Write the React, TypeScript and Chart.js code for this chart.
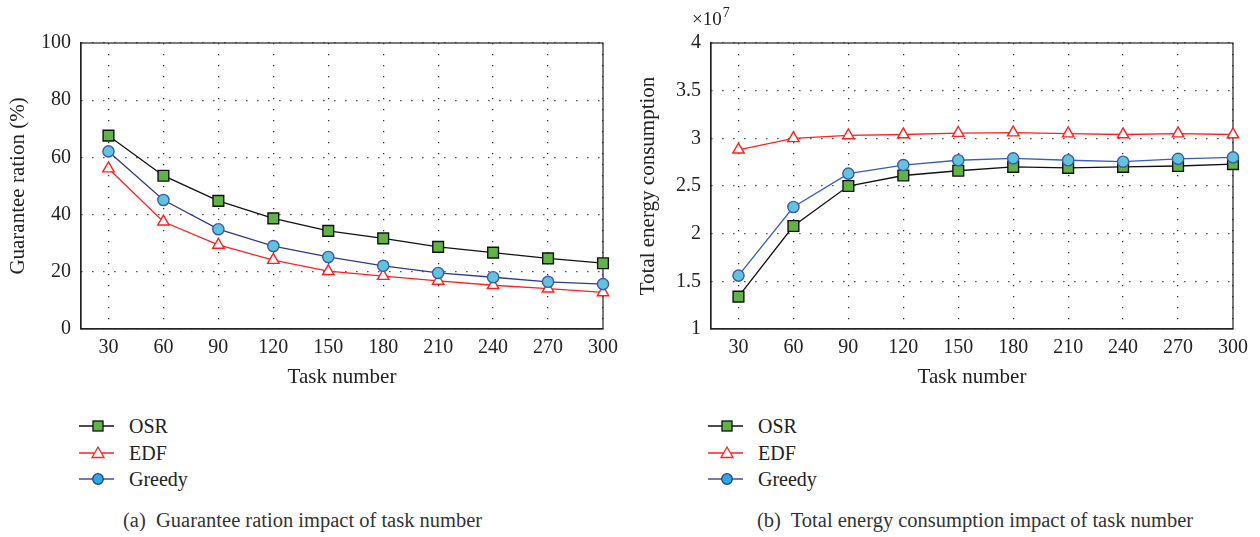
import React, { useEffect, useRef } from "react";
import { Chart, registerables } from "chart.js";
Chart.register(...registerables);

const taskNumbers = [30, 60, 90, 120, 150, 180, 210, 240, 270, 300];
const seriesNames = ["OSR", "EDF", "Greedy"];

const guaranteeOSR = [67.6, 53.6, 44.8, 38.7, 34.3, 31.7, 28.7, 26.7, 24.7, 23.0];
const guaranteeEDF = [56.1, 37.5, 29.4, 24.1, 20.2, 18.5, 16.8, 15.3, 14.1, 12.8];
const guaranteeGreedy = [62.1, 45.1, 34.9, 29.0, 25.2, 22.1, 19.6, 18.1, 16.5, 15.7];
const guaranteeTicks = [0, 20, 40, 60, 80, 100];

// Total energy consumption in units of 10^7
const energyOSR = [1.34, 2.08, 2.5, 2.61, 2.66, 2.7, 2.69, 2.7, 2.71, 2.73];
const energyEDF = [2.88, 3.0, 3.03, 3.04, 3.055, 3.06, 3.05, 3.04, 3.05, 3.04];
const energyGreedy = [1.56, 2.28, 2.63, 2.72, 2.77, 2.79, 2.77, 2.755, 2.785, 2.8];
const energyTicks = [1, 1.5, 2, 2.5, 3, 3.5, 4];

const FONT = "'Liberation Serif', 'Times New Roman', serif";
const TEXT = "#222";

const boxPlugin = {
  id: "box",
  beforeDatasetsDraw(chart: any) {
    const { ctx, chartArea } = chart;
    const { left, top, right, bottom } = chartArea;
    ctx.save();
    ctx.strokeStyle = "#222";
    ctx.lineWidth = 1.2;
    ctx.strokeRect(left, top, right - left, bottom - top);
    ctx.restore();
  },
};

type PanelProps = {
  yTitle: string;
  yMin: number;
  yMax: number;
  yTicks: number[];
  osr: number[];
  edf: number[];
  greedy: number[];
  greedyLine: string;
};

function LineChart(p: PanelProps) {
  const ref = useRef<HTMLCanvasElement>(null);
  useEffect(() => {
    const pts = (arr: number[]) => taskNumbers.map((x, i) => ({ x, y: arr[i] }));
    const tickFont = { family: FONT, size: 20 };
    const titleFont = { family: FONT, size: 21 };
    const chart = new Chart(ref.current as HTMLCanvasElement, {
      type: "line",
      data: {
        datasets: [
          {
            label: seriesNames[0],
            data: pts(p.osr),
            borderColor: "#111",
            borderWidth: 1.3,
            pointStyle: "rect",
            pointRadius: 7.6,
            pointBackgroundColor: "#62b346",
            pointBorderColor: "#111",
            pointBorderWidth: 1.4,
            tension: 0,
            clip: false,
            order: 2,
          },
          {
            label: seriesNames[1],
            data: pts(p.edf),
            borderColor: "#ff2020",
            borderWidth: 1.3,
            pointStyle: "triangle",
            pointRadius: 6.6,
            pointBackgroundColor: "#ffffff",
            pointBorderColor: "#ff2020",
            pointBorderWidth: 1.4,
            tension: 0,
            clip: false,
            order: 1,
          },
          {
            label: seriesNames[2],
            data: pts(p.greedy),
            borderColor: p.greedyLine,
            borderWidth: 1.3,
            pointStyle: "circle",
            pointRadius: 5.6,
            pointBackgroundColor: "#62c4dc",
            pointBorderColor: "#3b5ba8",
            pointBorderWidth: 1.4,
            tension: 0,
            clip: false,
            order: 0,
          },
        ] as any,
      },
      options: {
        responsive: false,
        maintainAspectRatio: false,
        animation: false,
        events: [],
        layout: { padding: { left: 0, right: 27, top: 43, bottom: 10 } },
        plugins: { legend: { display: false }, tooltip: { enabled: false } },
        scales: {
          x: {
            type: "linear",
            min: 15,
            max: 300,
            afterBuildTicks: (s: any) => {
              s.ticks = taskNumbers.map((v) => ({ value: v }));
            },
            afterFit: (s: any) => {
              s.height = 61;
            },
            ticks: {
              autoSkip: false,
              maxRotation: 0,
              padding: 7,
              font: tickFont,
              color: TEXT,
              callback: (v: any) => String(v),
            },
            grid: { drawTicks: false, color: "#333", lineWidth: 1.3 },
            border: { dash: [1.3, 9.7], color: "#222", width: 1.2 },
            title: {
              display: true,
              text: "Task number",
              font: titleFont,
              color: TEXT,
              padding: { top: 0, bottom: 0 },
            },
          },
          y: {
            type: "linear",
            min: p.yMin,
            max: p.yMax,
            afterBuildTicks: (s: any) => {
              s.ticks = p.yTicks.map((v) => ({ value: v }));
            },
            afterFit: (s: any) => {
              s.width = 81;
            },
            ticks: {
              padding: 10,
              font: tickFont,
              color: TEXT,
              callback: (v: any) => String(v),
            },
            grid: { drawTicks: false, color: "#333", lineWidth: 1.3 },
            border: { dash: [1.3, 9.7], color: "#222", width: 1.2 },
            title: {
              display: true,
              text: p.yTitle,
              font: titleFont,
              color: TEXT,
              padding: { top: 6, bottom: 0 },
            },
          },
        },
      } as any,
      plugins: [boxPlugin],
    });
    return () => chart.destroy();
  }, []);
  return <canvas ref={ref} width={630} height={400} style={{ display: "block" }} />;
}

function LegendMarker({ kind, line }: { kind: number; line: string }) {
  const stroke = kind === 0 ? "#111" : kind === 1 ? "#ff2020" : "#2e3a8c";
  return (
    <svg width={40} height={24} style={{ position: "absolute", left: 0, top: 0 }}>
      <line x1={0} y1={12} x2={35} y2={12} stroke={line} strokeWidth={1.3} />
      {kind === 0 && (
        <rect x={14} y={7} width={10} height={10} fill="#62b346" stroke="#111" strokeWidth={1.3} />
      )}
      {kind === 1 && (
        <polygon points="19,6 25,16.5 13,16.5" fill="#fff" stroke={stroke} strokeWidth={1.3} />
      )}
      {kind === 2 && <circle cx={19} cy={12} r={5.3} fill="#29abe2" stroke={stroke} strokeWidth={1.3} />}
    </svg>
  );
}

function Legend({ lineLeft, textLeft, greedyLine }: { lineLeft: number; textLeft: number; greedyLine: string }) {
  const centers = [426, 452.5, 479];
  const lines = ["#111", "#ff2020", greedyLine];
  return (
    <>
      {seriesNames.map((name, i) => (
        <React.Fragment key={name}>
          <div style={{ position: "absolute", left: lineLeft, top: centers[i] - 12, width: 40, height: 24 }}>
            <LegendMarker kind={i} line={lines[i]} />
          </div>
          <div
            style={{
              position: "absolute",
              left: textLeft,
              top: centers[i] - 12,
              height: 24,
              lineHeight: "24px",
              fontFamily: FONT,
              fontSize: 20,
              color: TEXT,
              whiteSpace: "nowrap",
            }}
          >
            {name}
          </div>
        </React.Fragment>
      ))}
    </>
  );
}

function Caption({ left, text }: { left: number; text: string }) {
  return (
    <div
      style={{
        position: "absolute",
        left,
        top: 520 - 12,
        height: 24,
        lineHeight: "24px",
        fontFamily: FONT,
        fontSize: 20.5,
        color: "#333",
        whiteSpace: "pre",
      }}
    >
      {text}
    </div>
  );
}

export default function App() {
  return (
    <div
      style={{
        position: "absolute",
        left: 0,
        top: 0,
        width: 1260,
        height: 537,
        background: "#fff",
        overflow: "hidden",
      }}
    >
      <div style={{ position: "absolute", left: 0, top: 0, width: 630, height: 400 }}>
        <LineChart
          yTitle="Guarantee ration (%)"
          yMin={0}
          yMax={100}
          yTicks={guaranteeTicks}
          osr={guaranteeOSR}
          edf={guaranteeEDF}
          greedy={guaranteeGreedy}
          greedyLine="#2e3a8c"
        />
      </div>
      <div style={{ position: "absolute", left: 630, top: 0, width: 630, height: 400 }}>
        <LineChart
          yTitle="Total energy consumption"
          yMin={1}
          yMax={4}
          yTicks={energyTicks}
          osr={energyOSR}
          edf={energyEDF}
          greedy={energyGreedy}
          greedyLine="#3a5bbf"
        />
      </div>
      <div
        style={{
          position: "absolute",
          left: 692,
          top: 8,
          height: 22,
          lineHeight: "22px",
          fontFamily: FONT,
          fontSize: 19,
          color: TEXT,
          whiteSpace: "nowrap",
        }}
      >
        ×10
        <span style={{ fontSize: 14, position: "relative", top: -8, marginLeft: 1 }}>7</span>
      </div>
      <Legend lineLeft={79} textLeft={129} greedyLine="#4a4a9a" />
      <Legend lineLeft={708} textLeft={758} greedyLine="#4a4a9a" />
      <Caption left={123} text="(a)  Guarantee ration impact of task number" />
      <Caption left={757} text="(b)  Total energy consumption impact of task number" />
    </div>
  );
}
